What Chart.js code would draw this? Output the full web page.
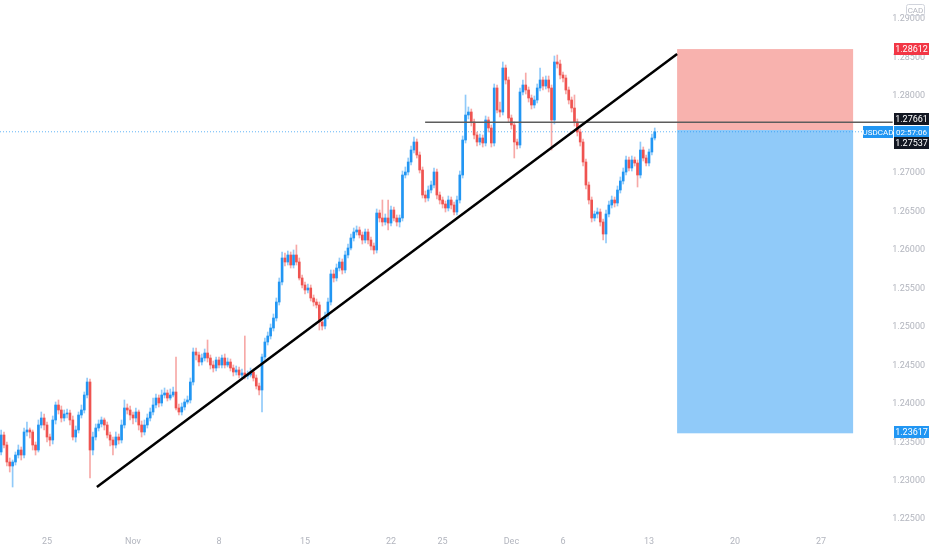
<!DOCTYPE html>
<html><head><meta charset="utf-8">
<script src="https://cdn.jsdelivr.net/npm/chart.js@4.4.1/dist/chart.umd.min.js"></script>
<style>html,body{margin:0;padding:0;background:#fff;}#wrap{width:932px;height:550px;position:relative;}</style>
</head><body><div id="wrap"><canvas id="c"></canvas></div>
<script>
// USDCAD 4h candles, index 0 = first visible bar
const opens=[1.23374,1.23595,1.23465,1.23244,1.23192,1.23244,1.23335,1.23400,1.23335,1.23634,1.23660,1.23634,1.23465,1.23400,1.23725,1.23816,1.23725,1.23569,1.23530,1.23790,1.23985,1.23920,1.23816,1.23868,1.23881,1.23790,1.23569,1.23660,1.23855,1.23920,1.24115,1.24284,1.23400,1.23569,1.23686,1.23738,1.23790,1.23725,1.23595,1.23530,1.23465,1.23569,1.23530,1.23725,1.23946,1.23920,1.23855,1.23816,1.23894,1.23725,1.23634,1.23725,1.23816,1.23894,1.23985,1.24076,1.24011,1.24115,1.24141,1.24076,1.24115,1.24154,1.23946,1.23894,1.23959,1.24024,1.24050,1.24284,1.24674,1.24635,1.24544,1.24596,1.24661,1.24596,1.24505,1.24466,1.24570,1.24505,1.24596,1.24505,1.24544,1.24466,1.24414,1.24440,1.24375,1.24401,1.24362,1.24375,1.24414,1.24336,1.24232,1.24180,1.24609,1.24804,1.24882,1.24986,1.25116,1.25324,1.25584,1.25896,1.25844,1.25935,1.25805,1.25935,1.25844,1.25636,1.25545,1.25480,1.25506,1.25376,1.25324,1.25285,1.25064,1.25012,1.25142,1.25324,1.25688,1.25636,1.25766,1.25844,1.25740,1.25935,1.26026,1.26156,1.26234,1.26260,1.26195,1.26130,1.26234,1.26130,1.26052,1.26000,1.26481,1.26416,1.26364,1.26416,1.26351,1.26520,1.26416,1.26364,1.26416,1.26975,1.27014,1.27144,1.27300,1.27404,1.27235,1.27040,1.26715,1.26676,1.26780,1.26845,1.27014,1.26715,1.26650,1.26598,1.26546,1.26650,1.26585,1.26494,1.26650,1.26975,1.27430,1.27755,1.27794,1.27664,1.27495,1.27404,1.27456,1.27391,1.27690,1.27586,1.27391,1.28106,1.27820,1.27794,1.28366,1.28210,1.27716,1.27625,1.27404,1.27365,1.28054,1.28145,1.28080,1.27976,1.27885,1.27950,1.28106,1.28210,1.28132,1.28210,1.28106,1.27690,1.28444,1.28418,1.28275,1.28236,1.28080,1.27950,1.27846,1.27664,1.27534,1.27404,1.27144,1.26845,1.26650,1.26416,1.26468,1.26494,1.26364,1.26208,1.26468,1.26585,1.26650,1.26611,1.26780,1.26897,1.27014,1.27170,1.27066,1.27170,1.27131,1.26975,1.27300,1.27196,1.27131,1.27274,1.27456];
const highs=[1.23660,1.23634,1.23504,1.23296,1.23270,1.23374,1.23465,1.23439,1.23686,1.23764,1.23686,1.23660,1.23504,1.23790,1.23894,1.23868,1.23764,1.23608,1.23842,1.24024,1.24050,1.23972,1.23920,1.23933,1.23920,1.23842,1.23712,1.23894,1.23985,1.24154,1.24336,1.24323,1.23634,1.23738,1.23790,1.23829,1.23816,1.23764,1.23634,1.23569,1.23634,1.23608,1.23790,1.24050,1.23998,1.23972,1.23894,1.23946,1.23920,1.23777,1.23790,1.23868,1.23946,1.24076,1.24128,1.24115,1.24180,1.24206,1.24180,1.24193,1.24219,1.24609,1.23998,1.24011,1.24063,1.24102,1.24336,1.24726,1.24726,1.24674,1.24648,1.24713,1.24830,1.24635,1.24557,1.24609,1.24609,1.24635,1.24648,1.24596,1.24583,1.24505,1.24492,1.24479,1.24453,1.24882,1.24427,1.24466,1.24453,1.24375,1.24271,1.24648,1.24856,1.24934,1.25038,1.25168,1.25376,1.25636,1.25974,1.25961,1.25987,1.25974,1.26000,1.26065,1.25896,1.25675,1.25584,1.25558,1.25545,1.25415,1.25363,1.25324,1.25116,1.25194,1.25376,1.25740,1.25740,1.25818,1.25896,1.25883,1.25987,1.26078,1.26208,1.26286,1.26312,1.26299,1.26234,1.26273,1.26273,1.26169,1.26091,1.26533,1.26520,1.26650,1.26468,1.26650,1.26572,1.26559,1.26455,1.26455,1.27027,1.27079,1.27196,1.27352,1.27469,1.27443,1.27274,1.27079,1.26767,1.26832,1.26897,1.27066,1.27053,1.26754,1.26689,1.26637,1.26702,1.26689,1.26624,1.26702,1.27027,1.27482,1.28015,1.27859,1.27833,1.27703,1.27534,1.27508,1.27495,1.27742,1.27729,1.27625,1.28158,1.28145,1.27924,1.28444,1.28405,1.28249,1.27755,1.27664,1.27443,1.28106,1.28210,1.28301,1.28119,1.28015,1.28002,1.28158,1.28366,1.28249,1.28262,1.28262,1.28145,1.28522,1.28535,1.28470,1.28314,1.28275,1.28119,1.27989,1.28015,1.27703,1.27573,1.27443,1.27183,1.26884,1.26689,1.26507,1.26546,1.26533,1.26403,1.26520,1.26637,1.26702,1.26689,1.26832,1.26949,1.27066,1.27222,1.27209,1.27222,1.27209,1.27170,1.27404,1.27339,1.27235,1.27313,1.27508,1.27586];
const lows=[1.23335,1.23426,1.23192,1.23114,1.22919,1.23205,1.23296,1.23270,1.23296,1.23582,1.23556,1.23400,1.23335,1.23374,1.23686,1.23660,1.23504,1.23452,1.23478,1.23738,1.23868,1.23764,1.23777,1.23816,1.23725,1.23530,1.23504,1.23621,1.23816,1.23881,1.24076,1.23036,1.23335,1.23530,1.23647,1.23699,1.23660,1.23556,1.23452,1.23335,1.23426,1.23478,1.23491,1.23686,1.23868,1.23790,1.23738,1.23764,1.23660,1.23569,1.23595,1.23686,1.23777,1.23855,1.23946,1.23959,1.23972,1.24076,1.24037,1.24050,1.24089,1.23920,1.23855,1.23855,1.23920,1.23998,1.24011,1.24245,1.24570,1.24492,1.24505,1.24557,1.24544,1.24453,1.24414,1.24427,1.24466,1.24466,1.24466,1.24479,1.24427,1.24362,1.24375,1.24336,1.24336,1.24323,1.24323,1.24349,1.24297,1.24193,1.24115,1.23894,1.24570,1.24765,1.24843,1.24947,1.25077,1.25285,1.25545,1.25792,1.25805,1.25766,1.25766,1.25805,1.25610,1.25506,1.25428,1.25441,1.25337,1.25272,1.25246,1.24960,1.24960,1.24973,1.25103,1.25285,1.25584,1.25597,1.25727,1.25688,1.25701,1.25896,1.26000,1.26117,1.26195,1.26156,1.26078,1.26091,1.26078,1.26000,1.25948,1.25961,1.26364,1.26312,1.26325,1.26260,1.26312,1.26377,1.26312,1.26299,1.26377,1.26936,1.26975,1.27105,1.27261,1.27196,1.27001,1.26676,1.26624,1.26637,1.26741,1.26806,1.26663,1.26598,1.26546,1.26494,1.26507,1.26533,1.26455,1.26455,1.26611,1.26936,1.27391,1.27703,1.27612,1.27443,1.27352,1.27365,1.27339,1.27352,1.27534,1.27339,1.27352,1.27781,1.27729,1.27755,1.28158,1.27664,1.27573,1.27196,1.27313,1.27326,1.28015,1.28028,1.27924,1.27833,1.27846,1.27911,1.28067,1.28080,1.28093,1.28054,1.27300,1.27638,1.28366,1.28223,1.28184,1.28028,1.27898,1.27794,1.27612,1.27482,1.27352,1.27092,1.26793,1.26598,1.26364,1.26377,1.26416,1.26312,1.26130,1.26091,1.26429,1.26546,1.26559,1.26572,1.26741,1.26858,1.26975,1.27027,1.27027,1.27092,1.26819,1.26936,1.27157,1.27092,1.27092,1.27235,1.27430];
const closes=[1.23595,1.23465,1.23244,1.23192,1.23244,1.23335,1.23400,1.23335,1.23634,1.23660,1.23634,1.23465,1.23400,1.23725,1.23816,1.23725,1.23569,1.23530,1.23790,1.23985,1.23920,1.23816,1.23868,1.23881,1.23790,1.23569,1.23660,1.23855,1.23920,1.24115,1.24284,1.23400,1.23569,1.23686,1.23738,1.23790,1.23725,1.23595,1.23530,1.23465,1.23569,1.23530,1.23725,1.23946,1.23920,1.23855,1.23816,1.23894,1.23725,1.23634,1.23725,1.23816,1.23894,1.23985,1.24076,1.24011,1.24115,1.24141,1.24076,1.24115,1.24154,1.23946,1.23894,1.23959,1.24024,1.24050,1.24284,1.24674,1.24635,1.24544,1.24596,1.24661,1.24596,1.24505,1.24466,1.24570,1.24505,1.24596,1.24505,1.24544,1.24466,1.24414,1.24440,1.24375,1.24401,1.24362,1.24375,1.24414,1.24336,1.24232,1.24180,1.24609,1.24804,1.24882,1.24986,1.25116,1.25324,1.25584,1.25896,1.25844,1.25935,1.25805,1.25935,1.25844,1.25636,1.25545,1.25480,1.25506,1.25376,1.25324,1.25285,1.25064,1.25012,1.25142,1.25324,1.25688,1.25636,1.25766,1.25844,1.25740,1.25935,1.26026,1.26156,1.26234,1.26260,1.26195,1.26130,1.26234,1.26130,1.26052,1.26000,1.26481,1.26416,1.26364,1.26416,1.26351,1.26520,1.26416,1.26364,1.26416,1.26975,1.27014,1.27144,1.27300,1.27404,1.27235,1.27040,1.26715,1.26676,1.26780,1.26845,1.27014,1.26715,1.26650,1.26598,1.26546,1.26650,1.26585,1.26494,1.26650,1.26975,1.27430,1.27755,1.27794,1.27664,1.27495,1.27404,1.27456,1.27391,1.27690,1.27586,1.27391,1.28106,1.27820,1.27794,1.28366,1.28210,1.27716,1.27625,1.27404,1.27365,1.28054,1.28145,1.28080,1.27976,1.27885,1.27950,1.28106,1.28210,1.28132,1.28210,1.28106,1.27690,1.28444,1.28418,1.28275,1.28236,1.28080,1.27950,1.27846,1.27664,1.27534,1.27404,1.27144,1.26845,1.26650,1.26416,1.26468,1.26494,1.26364,1.26208,1.26468,1.26585,1.26650,1.26611,1.26780,1.26897,1.27014,1.27170,1.27066,1.27170,1.27131,1.26975,1.27300,1.27196,1.27131,1.27274,1.27456,1.27537];

// axis ticks (bar-index positions of date labels)
const xTickValues=[16,46,76,106,136,154,178,196,226,256,286];
const xTickLabels=["25","Nov","8","15","22","25","Dec","6","13","20","27"];
const yTickValues=[1.225,1.23,1.235,1.24,1.245,1.25,1.255,1.26,1.265,1.27,1.275,1.28,1.285,1.29];
const xMin=-0.4, xMax=300.3, yMin=1.22386, yMax=1.2925;

// drawings
const trendLine=[{x:33.4,y:1.22919},{x:235.8,y:1.28548}];
const resistanceLine=[{x:147.9,y:1.27661},{x:311,y:1.27661}];
const lastPrice=1.27537;
const stopPrice=1.28612, entryPrice=1.27560, targetPrice=1.23617;
const boxStartX=235.8, boxEndX=297.2;
const symbol="USDCAD", countdown="02:57:06", currency="CAD";

const UP='#2196f3', DOWN='#ef5350', UPW='rgba(33,150,243,0.5)', DOWNW='rgba(239,83,80,0.5)';
const idx=closes.map((_,i)=>i);
const isUp=idx.map(i=>closes[i]>=opens[i]);

const overlay={
  id:'overlay',
  beforeDatasetsDraw(chart){
    const {ctx}=chart, xs=chart.scales.x, ys=chart.scales.y;
    const x0=xs.getPixelForValue(boxStartX), x1=xs.getPixelForValue(boxEndX);
    const yS=ys.getPixelForValue(stopPrice), yE=ys.getPixelForValue(entryPrice), yT=ys.getPixelForValue(targetPrice);
    ctx.save();
    ctx.fillStyle='#f8b2ae'; ctx.fillRect(x0,yS,x1-x0,yE-yS);
    ctx.fillStyle='#90caf9'; ctx.fillRect(x0,yE,x1-x0,yT-yE);
    ctx.restore();
  },
  afterDraw(chart){
    const {ctx}=chart, ys=chart.scales.y;
    function lab(txt,x,w,cy,bg,size){
      ctx.fillStyle=bg; ctx.fillRect(x,Math.round(cy-6),w,12);
      ctx.fillStyle='#fff'; ctx.font=(size||9)+'px Roboto, "Liberation Sans", sans-serif';
      ctx.textAlign='center'; ctx.textBaseline='middle';
      ctx.fillText(txt,x+w/2,Math.round(cy)+0.5);
    }
    ctx.save();
    const pLast=ys.getPixelForValue(lastPrice);
    lab(stopPrice.toFixed(5),894,35,ys.getPixelForValue(stopPrice),'#f23645');
    lab(resistanceLine[0].y.toFixed(5),894,35,ys.getPixelForValue(resistanceLine[0].y)-3,'#131722');
    lab(symbol,863,30,pLast,'#2196f3',8);
    lab(countdown,894,35,pLast,'#2196f3',8);
    lab(lastPrice.toFixed(5),894,35,pLast+11,'#131722');
    lab(targetPrice.toFixed(5),894,35,ys.getPixelForValue(targetPrice)-1,'#2196f3');
    // currency box
    ctx.strokeStyle='#d1d4dc'; ctx.lineWidth=1;
    ctx.beginPath(); ctx.roundRect(906.5,4.5,18,11,2); ctx.stroke();
    ctx.fillStyle='#b2b5be'; ctx.font='8px Roboto, sans-serif'; ctx.textAlign='center'; ctx.textBaseline='middle';
    ctx.fillText(currency,915.5,10.5);
    ctx.restore();
  }
};

new Chart(document.getElementById('c'),{
  type:'bar',
  data:{datasets:[
    {type:'line',data:trendLine,borderColor:'#000',borderWidth:2.5,pointRadius:0,order:0},
    {type:'line',data:resistanceLine,borderColor:'#5d5d5d',borderWidth:1.5,pointRadius:0,order:0,clip:false},
    {type:'line',data:[{x:xMin,y:lastPrice},{x:xMax,y:lastPrice}],borderColor:'rgba(33,150,243,0.7)',borderWidth:1,borderDash:[1,2],pointRadius:0,order:3},
    {data:idx.map(i=>({x:i,y:[lows[i],highs[i]]})),backgroundColor:idx.map(i=>isUp[i]?UPW:DOWNW),barThickness:1,grouped:false,order:2},
    {data:idx.map(i=>({x:i,y:[opens[i],closes[i]]})),backgroundColor:idx.map(i=>isUp[i]?UP:DOWN),barThickness:2,minBarLength:1,grouped:false,order:1}
  ]},
  options:{
    responsive:true,maintainAspectRatio:false,animation:false,
    layout:{padding:{left:0,right:7,top:0,bottom:0}},
    plugins:{legend:{display:false},tooltip:{enabled:false}},
    scales:{
      x:{type:'linear',min:xMin,max:xMax,offset:false,grid:{display:false,drawTicks:false},border:{display:false},
        afterBuildTicks(s){s.ticks=xTickValues.map(v=>({value:v}));},
        afterFit(s){s.height=22;s.paddingLeft=0;s.paddingRight=0;},
        ticks:{autoSkip:false,maxRotation:0,padding:8,color:'#b2b5be',font:{size:9,family:'Roboto, "Liberation Sans", sans-serif'},
          callback:(v,i)=>xTickLabels[i]}},
      y:{type:'linear',position:'right',min:yMin,max:yMax,grid:{display:false,drawTicks:false},border:{display:false},
        afterBuildTicks(s){s.ticks=yTickValues.map(v=>({value:v}));},
        afterFit(s){s.width=63;s.paddingTop=0;s.paddingBottom=0;},
        ticks:{crossAlign:'far',padding:0,color:'#b2b5be',font:{size:9,family:'"Liberation Sans Narrow", Roboto, sans-serif'},
          callback:v=>Number(v).toFixed(5)}}
    }
  },
  plugins:[overlay]
});
</script></body></html>
